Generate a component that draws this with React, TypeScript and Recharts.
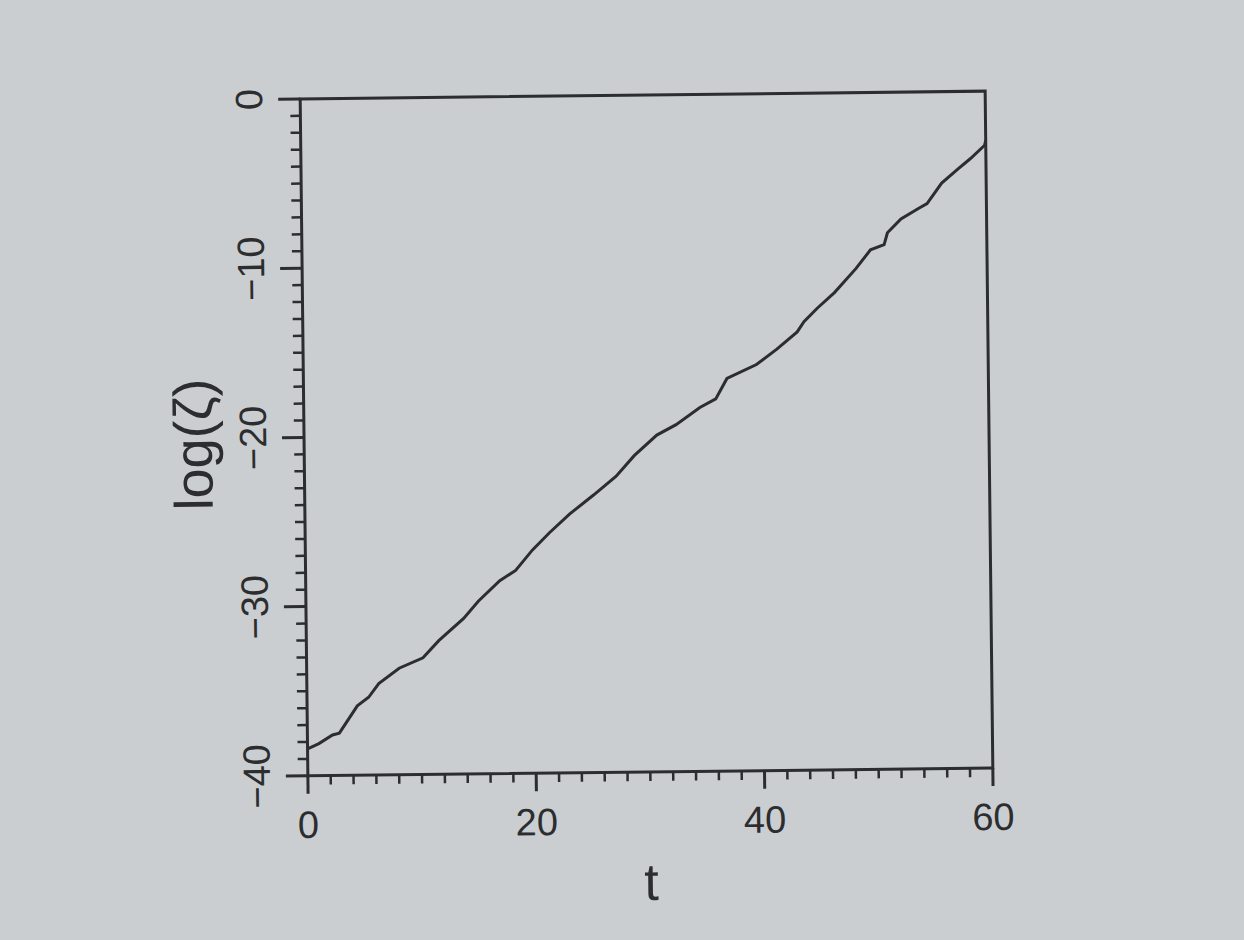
import { LineChart, Line, XAxis, YAxis, ReferenceArea, Label } from 'recharts';

// sampled growth of log(zeta) over time
const tValues = [
  0, 1, 2.2, 2.8, 4.4, 5.4, 6.3, 8.1, 10.2, 11.6, 13.8, 15.1, 17.0, 18.4, 19.9, 21.4, 23.2, 25.3, 27.3, 28.9,
  30.9, 32.6, 34.7, 36.1, 37.1, 39.7, 41.5, 43.3, 43.9, 45.1, 46.6, 48.5, 49.8, 51.0, 51.3, 52.5, 54.0, 54.8,
  56.1, 57.5, 58.6, 59.9, 60,
];
const logZeta = [
  -38.4, -38.1, -37.6, -37.5, -35.9, -35.4, -34.6, -33.7, -33.1, -32.1, -30.8, -29.8, -28.6, -28.0, -26.8, -25.8,
  -24.7, -23.6, -22.5, -21.3, -20.1, -19.5, -18.5, -18.0, -16.8, -16.0, -15.1, -14.1, -13.5, -12.7, -11.8, -10.4,
  -9.3, -9.0, -8.3, -7.5, -6.9, -6.6, -5.4, -4.6, -4.0, -3.2, -2.9,
];

const xLabelTicks = [0, 20, 40, 60];
const yLabelTicks = [-40, -30, -20, -10, 0];
const xTicks = Array.from({ length: 31 }, (_, i) => i * 2);
const yTicks = Array.from({ length: 41 }, (_, i) => i - 40);

const data = tValues.map((t, i) => ({ t, v: logZeta[i] }));

const INK = '#2c2d2f';
const FONT = '"Liberation Sans", Arial, sans-serif';

const fmt = (v: number) => (v < 0 ? `\u2212${-v}` : `${v}`);

function XTick(props: any) {
  const { x, y, payload } = props;
  const major = xLabelTicks.includes(payload.value);
  return (
    <g>
      <line x1={x} y1={y} x2={x} y2={y + (major ? 18 : 9)} stroke={INK} strokeWidth={major ? 3 : 2.5} />
      {major && (
        <text x={x} y={y + 62} textAnchor="middle" fontSize={38} fontFamily={FONT} fill={INK}>
          {payload.value}
        </text>
      )}
    </g>
  );
}

function YTick(props: any) {
  const { x, y, payload } = props;
  const major = yLabelTicks.includes(payload.value);
  const bx = x - 38;
  return (
    <g>
      <line x1={x} y1={y} x2={x - (major ? 22 : 10)} y2={y} stroke={INK} strokeWidth={major ? 3 : 2.5} />
      {major && (
        <text
          x={bx}
          y={y}
          transform={`rotate(-90, ${bx}, ${y})`}
          textAnchor="middle"
          fontSize={38}
          fontFamily={FONT}
          fill={INK}
        >
          {fmt(payload.value)}
        </text>
      )}
    </g>
  );
}

export default function App() {
  return (
    <div style={{ position: 'fixed', left: 0, top: 0, width: 1244, height: 940, background: '#cbced1', overflow: 'hidden' }}>
      <div style={{ position: 'absolute', left: 0, top: 0, transform: 'rotate(-0.65deg)', transformOrigin: '646px 433px' }}>
        <LineChart width={1244} height={940} data={data} margin={{ top: 95, right: 255, bottom: 108, left: 224 }}>
          <XAxis
            dataKey="t"
            type="number"
            domain={[0, 60]}
            ticks={xTicks}
            interval={0}
            height={60}
            tickSize={0}
            tickMargin={0}
            axisLine={false}
            tick={(p: any) => <XTick {...p} />}
          >
            <Label
              content={(p: any) => {
                const vb = p.viewBox;
                return (
                  <text x={vb.x + vb.width / 2} y={vb.y + 128} textAnchor="middle" fontSize={52} fontFamily={FONT} fill={INK}>
                    t
                  </text>
                );
              }}
            />
          </XAxis>
          <YAxis
            type="number"
            domain={[-40, 0]}
            ticks={yTicks}
            interval={0}
            width={80}
            tickSize={0}
            tickMargin={0}
            axisLine={false}
            tick={(p: any) => <YTick {...p} />}
          >
            <Label
              content={(p: any) => {
                const vb = p.viewBox;
                const lx = vb.x - 12;
                const ly = vb.y + vb.height / 2 + 6;
                return (
                  <text
                    x={lx}
                    y={ly}
                    transform={`rotate(-90, ${lx}, ${ly})`}
                    textAnchor="middle"
                    fontSize={54}
                    fontFamily={FONT}
                    fill={INK}
                  >
                    log(ζ)
                  </text>
                );
              }}
            />
          </YAxis>
          <Line type="linear" dataKey="v" stroke={INK} strokeWidth={3} dot={false} isAnimationActive={false} />
          <ReferenceArea x1={0} x2={60} y1={-40} y2={0} fill="none" stroke={INK} strokeWidth={3} />
        </LineChart>
      </div>
    </div>
  );
}
